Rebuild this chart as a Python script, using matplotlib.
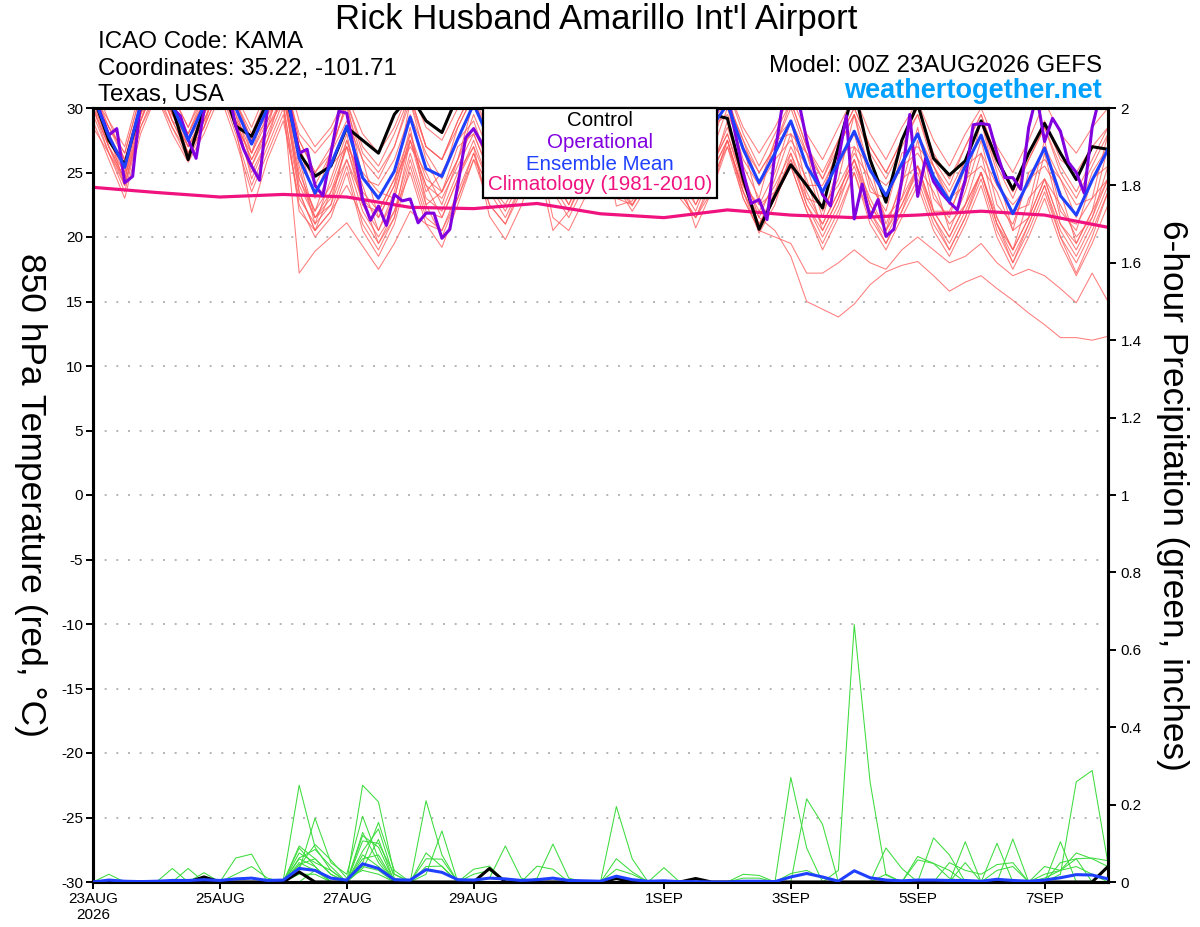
import numpy as np
import matplotlib
matplotlib.use("Agg")
import matplotlib.pyplot as plt
from matplotlib.patches import Rectangle

plt.rcParams['font.family'] = ['Liberation Sans', 'DejaVu Sans']
plt.rcParams['axes.unicode_minus'] = False

# ---------------- data ----------------
step_hours = 6            # ensemble output every 6 h, 0..384 h
op_step_hours = 3         # operational run every 3 h
clim_step_hours = 24      # climatology daily

xtick_hours = [0, 48, 96, 144, 216, 264, 312, 360]
xtick_labels = ["23AUG\n2026", "25AUG", "27AUG", "29AUG", "1SEP", "3SEP", "5SEP", "7SEP"]

control_temp = [31.0, 27.5, 25.6, 30.0, 33.0, 30.0, 26.0, 30.0, 32.5, 28.6, 27.8, 30.5, 32.0, 26.5, 24.7, 25.5,
                28.5, 27.5, 26.5, 29.5, 31.0, 29.0, 28.1, 31.0, 32.0, 29.0, 27.0, 29.0, 31.5, 28.5, 27.0, 29.0,
                31.5, 29.0, 27.0, 29.0, 31.5, 29.0, 27.5, 29.5, 29.2, 24.5, 20.6, 23.2, 25.6, 24.0, 22.25, 27.0,
                31.5, 26.0, 22.7, 27.5, 30.3, 26.1, 24.8, 25.9, 29.0, 26.0, 23.7, 26.5, 28.8, 26.5, 24.45, 27.0,
                26.8]

mean_temp = [31.0, 27.8, 25.4, 30.3, 33.0, 30.2, 27.5, 30.2, 33.0, 30.0, 27.2, 30.0, 32.5, 26.1, 23.4, 25.6,
             28.6, 24.6, 23.0, 25.1, 29.3, 25.3, 24.7, 27.6, 30.3, 27.5, 25.5, 28.0, 31.0, 28.0, 26.0, 28.5,
             31.0, 28.0, 25.8, 28.0, 30.5, 27.5, 25.5, 28.5, 30.3, 26.8, 24.2, 26.5, 29.0, 25.5, 23.5, 25.8,
             28.2, 25.2, 23.2, 25.7, 28.0, 24.7, 22.8, 25.5, 27.9, 24.3, 21.8, 24.4, 26.9, 23.2, 21.7, 24.4,
             26.8]

oper_temp = [31.5, 29.5, 27.9, 28.4, 24.2, 24.7, 30.5, 32.5,
             33.5, 32.5, 30.0, 29.4, 27.55, 26.1, 29.8, 32.5,
             33.5, 31.5, 28.6, 26.8, 25.5, 24.4, 30.0, 32.5,
             33.0, 29.5, 26.5, 26.8, 24.0, 23.2, 26.5, 29.75,
             29.6, 26.5, 22.9, 21.3, 22.4, 20.9, 23.3, 22.8,
             22.95, 21.1, 21.85, 21.85, 19.9, 20.6, 24.0, 27.7,
             28.4, 27.3, 26.0, 25.0, 24.5, 25.5, 27.5, 29.5,
             30.5, 29.5, 27.5, 26.0, 25.0, 25.5, 27.5, 29.5,
             30.5, 29.5, 27.5, 26.0, 25.0, 25.5, 27.5, 29.5,
             30.5, 29.5, 27.5, 26.0, 25.0, 26.0, 28.0, 30.5,
             31.0, 28.0, 25.0, 22.6, 22.9, 21.35, 26.5, 30.5,
             31.5, 30.5, 27.5, 25.0, 23.3, 22.4, 26.0, 29.4,
             21.4, 24.1, 21.5, 22.9, 20.05, 20.6, 24.5, 29.5,
             23.15, 26.1, 24.3, 23.4, 22.7, 22.1, 24.45, 28.7,
             28.8, 28.7, 26.5, 24.6, 24.6, 23.7, 28.5, 31.0,
             27.4, 29.2, 28.2, 25.8, 25.0, 23.4, 28.5, 31.0,
             31.0]

climatology_temp = [23.85, 23.45, 23.1, 23.3, 23.1, 22.3, 22.2, 22.6, 21.8,
                    21.5, 22.1, 21.7, 21.5, 21.7, 22.0, 21.7, 20.75]

member_temp = [
    [31.5, 28.5, 26.5, 31, 33.5, 31, 28.5, 31, 33.5, 30.5, 28, 31, 33, 27.5, 25, 27,
     30, 26, 24.5, 27, 31, 27, 26, 29, 31.5, 28.5, 26.5, 29, 32, 29, 27, 29.5,
     32, 29, 27, 29, 31.5, 28.5, 26.5, 29.5, 31.5, 28, 25.5, 28, 30.5, 27, 25, 27.5,
     30, 27, 25, 27.5, 30, 26.5, 24.5, 27, 29.5, 26, 23.5, 26, 28.5, 25.5, 23.5, 26, 28.5],
    [30.5, 27, 24.5, 29.5, 32.5, 29.5, 27, 29.5, 32, 29, 26, 28.5, 30.5, 17.2, 18.9, 20,
     21.1, 19.3, 17.5, 19.5, 22, 21, 20.5, 23, 26, 24, 22.5, 25, 28, 25, 23.5, 26,
     28.5, 25.5, 23.5, 25.5, 28, 25, 23, 25.5, 28, 24.5, 22, 24, 26.5, 23.5, 21, 23.5,
     26, 23, 20.5, 23, 25.5, 22, 20, 22.5, 25, 21.5, 19, 21.5, 24.5, 21, 19, 21.5, 24.5],
    [29.5, 26.5, 23.5, 28.5, 31.5, 28.5, 26, 28.5, 31.5, 28, 24, 27, 30, 23.5, 20.5, 22,
     25.5, 21, 19, 21.5, 26, 22, 21.5, 24.5, 27, 24, 22, 24.5, 28, 24.5, 22.5, 25,
     28, 24.5, 22.5, 24.5, 27.5, 24, 22, 25, 27.5, 23.5, 21, 23.5, 26, 22.5, 20.5, 23,
     25.5, 22, 20, 22.5, 25, 21.5, 19.5, 22, 25, 21, 18.5, 21, 24, 20.5, 18.5, 21, 24],
    [32, 29, 27, 31.5, 34, 31, 28.5, 31.5, 34, 31, 28.5, 31.5, 33.5, 29, 27, 28.5,
     31, 28, 26.5, 28.5, 31.5, 28.5, 27.5, 30, 32, 29, 27.5, 30, 32.5, 29.5, 27.5, 30,
     32.5, 29.5, 27.5, 30, 32, 29, 27, 30, 31.5, 28.5, 26.5, 28.5, 31, 28, 26, 28.5,
     31, 28, 26, 28.5, 30.5, 27.5, 25.5, 28, 30, 27, 25, 27.5, 30.5, 28, 26.5, 28.5, 30],
    [31, 28.5, 26, 30.5, 33, 30.5, 28, 30.5, 33, 30, 27.5, 30, 32.5, 28, 26.5, 28,
     30.5, 27, 25.5, 28, 31, 27, 26, 29, 31.5, 28.5, 26.5, 29.5, 32, 29, 27, 29.5,
     31.5, 29, 27, 29, 31, 28, 26, 29, 30.5, 27.5, 25, 27, 30.5, 27, 24.5, 27.5,
     30, 27, 25, 27.5, 29.5, 26, 24, 27, 29.5, 26, 23.5, 26.5, 29, 26, 25, 27, 28.5],
    [31.5, 28, 25.5, 30.5, 33.5, 30.5, 27.5, 30.5, 33.5, 30.5, 27.5, 30, 32.5, 27.5, 25, 26.5,
     30.5, 26.5, 25, 27, 30.5, 27, 26, 28.5, 31, 28, 26, 28.5, 31.5, 28.5, 26.5, 29,
     32, 29, 26.5, 28.5, 31, 28, 26, 29, 31, 27, 25, 27, 30, 26.5, 24.5, 27,
     29.5, 26.5, 24.5, 27, 29.5, 25.5, 23.5, 26, 29, 25.5, 23, 26, 28.5, 25, 23, 25.5, 28],
    [31, 29, 26, 29, 33, 29, 28, 31, 32, 30.5, 27.5, 29, 32, 27, 24, 26.5,
     29, 26, 21.5, 24, 30.5, 26, 23.5, 26, 30.5, 28, 24, 26.5, 30, 28, 25, 27,
     31.5, 26.5, 24, 28.5, 29, 27.5, 25.5, 27, 31, 25.5, 23, 27.5, 28, 26.5, 22, 24.5,
     29.5, 24, 22, 26.5, 27, 25.5, 23, 24, 29, 25, 20.5, 25, 26, 24.5, 22.5, 23, 28],
    [30, 26.5, 24.5, 30.5, 32, 30, 26.5, 28.5, 33, 28.5, 26.5, 30.5, 31.5, 24.5, 22, 25.5,
     27, 25, 23.5, 23, 28, 23.5, 25, 27.5, 29, 25.5, 25, 28, 31, 26.5, 24, 28,
     30, 27.5, 26, 26.5, 31, 25.5, 24, 28.5, 29.5, 27, 22.5, 25, 29, 24, 24, 26.5,
     27, 25.5, 21, 24, 28.5, 23, 21.5, 25.5, 26.5, 24, 22, 22.5, 27.5, 22, 20.5, 24.5, 25.5],
    [31.5, 27.5, 26, 29.5, 33.5, 29.5, 28, 30.5, 32.5, 30, 25.5, 28.5, 32.5, 25.5, 21, 24.5,
     28, 22.5, 22, 24.5, 27, 25, 22.5, 26, 29.5, 26.5, 23, 27, 29.5, 27, 23.5, 27.5,
     30.5, 25.5, 25, 27.5, 29, 26.5, 23, 26.5, 30, 26, 24, 26, 27.5, 25.5, 21.5, 25.5,
     28, 23.5, 23, 25.5, 26.5, 24.5, 20.5, 23.5, 27.5, 22.5, 21, 24.5, 25.5, 23.5, 19.5, 22, 27],
    [30, 28, 24, 29, 32, 30, 26, 29.5, 33, 29, 27.5, 29.5, 31, 26, 21.5, 22.5,
     27.5, 24, 20.5, 23.5, 28.5, 22.5, 23.5, 27, 28, 25, 24.5, 25.5, 29, 25.5, 24.5, 26,
     28.5, 26.5, 23, 27, 30, 24.5, 24.5, 25.5, 28.5, 25, 21.5, 24.5, 28, 23, 22.5, 24,
     26.5, 24.5, 21.5, 23, 27.5, 22, 22, 24.5, 25.5, 23.5, 20.5, 21.5, 26.5, 21.5, 21, 23, 24.5],
    [31, 27, 25, 30.5, 33, 30.5, 27, 29, 32, 29.5, 24.5, 27.5, 31.5, 23.5, 20.5, 23.5,
     26, 23, 19.5, 21.5, 27.5, 24, 21.5, 24.5, 27.5, 24, 23.5, 26.5, 30, 25, 22.5, 25.5,
     29.5, 24.5, 23.5, 26, 28, 25.5, 22.5, 25, 29, 24, 22.5, 23.5, 27, 24.5, 20.5, 23,
     27, 22.5, 20.5, 24.5, 25.5, 23.5, 21, 22.5, 26.5, 21.5, 19, 23, 24.5, 22.5, 20, 21.5, 25.5],
    [30.5, 28.5, 26.5, 31, 34, 29.5, 27.5, 30.5, 33.5, 30.5, 26.5, 29.5, 32.5, 27, 23, 26.5,
     30.5, 24.5, 24, 26, 29.5, 26.5, 24.5, 28.5, 31, 27, 26, 27.5, 31.5, 27.5, 26.5, 28,
     30.5, 28.5, 25.5, 29, 31, 27, 26, 28, 30.5, 27.5, 24, 27.5, 29, 26.5, 23.5, 27,
     29.5, 25, 24, 25.5, 28, 25.5, 22.5, 26, 29, 24, 22.5, 24, 27, 24.5, 21.5, 25, 27],
    [29, 26, 23, 28, 31, 28, 25.8, 28, 31, 27.5, 23.5, 26.5, 29.5, 22.5, 20, 21.5,
     25, 20.5, 18.5, 21, 25.5, 21.5, 20.5, 23.5, 26.5, 23.5, 21.5, 24, 27.5, 24, 22, 24.5,
     27.5, 24, 22, 24, 27, 23.5, 21.5, 24.5, 27, 23, 20.5, 23, 25.5, 22, 19.5, 22,
     25, 21.5, 19.5, 22, 24.5, 21, 19, 21.5, 24.5, 20.5, 18, 20.5, 23.5, 20, 18, 20.5, 23.5],
    [28.5, 26.5, 24, 28.5, 31, 28.5, 26.5, 28.5, 31.5, 28.5, 21.9, 26, 29, 23, 21, 22.5,
     26, 22, 20, 22, 26.5, 22.5, 20, 23, 26.5, 22.5, 21, 24, 27.5, 23.5, 21.5, 24,
     28, 24, 22.4, 24.5, 27.5, 23.5, 21.5, 24, 27.5, 23.5, 20.3, 22.5, 26.5, 22.5, 20, 22.5,
     26, 22, 19.5, 22, 25.5, 21.5, 19, 21.5, 25, 21, 18, 21, 24, 20, 17.2, 20, 23.5],
    [30, 27, 24, 29, 32, 29, 26.5, 29, 32, 28.5, 25, 27.5, 30.5, 22, 20.5, 22,
     24, 21.5, 19.5, 22, 25, 21, 19.2, 22.5, 26, 22.5, 21, 23.5, 27, 21.5, 20.5, 23,
     27.5, 23, 22.5, 24.5, 27, 23, 21.5, 23.5, 27, 24, 21, 23, 25.5, 22, 19, 21.5,
     25, 21, 19, 21.5, 24, 20.5, 18.5, 21, 24, 20, 17.5, 20, 23, 19.5, 17, 19.5, 22.5],
    [31, 28, 25.5, 30, 33, 30, 27.5, 29.5, 32.5, 29.5, 26.5, 29, 31.5, 25, 22, 24,
     27.5, 23.5, 22, 24.5, 28, 24.5, 23.5, 26, 28.5, 25.5, 23.5, 26, 29, 25.5, 23.5, 26,
     29, 25.5, 23.5, 26, 28.5, 25, 23, 25.5, 28, 24, 21.5, 20.5, 18.5, 15, 14.4, 13.8,
     14.8, 16.3, 17.3, 17.8, 18.1, 17, 15.8, 16.5, 17, 16, 15.1, 14.1, 13.2, 12.2, 12.2, 12, 12.3],
    [30.5, 27.5, 25, 29.5, 32.5, 29.5, 27, 29.5, 32.5, 29, 26, 28.5, 31, 24.5, 21.5, 23.5,
     27, 23, 21.5, 24, 27.5, 24, 23, 25.5, 28, 25, 23, 25.5, 28.5, 25, 23, 25.5,
     28.5, 25, 23, 25, 28, 24.5, 22.5, 25, 27.5, 23, 20.5, 20, 19.5, 17.2, 17.2, 18,
     19, 18, 17.5, 19, 20, 19, 18, 18.5, 19.5, 18, 17, 17.5, 17, 16, 14.9, 17.2, 15],
    [30, 27, 24.5, 29, 32, 29, 26.5, 29, 32, 28.5, 25.5, 28, 31, 24, 21.5, 23,
     27, 22.5, 20.5, 23, 27.5, 23, 22, 25, 27, 21.6, 19.8, 22.4, 26, 20.5, 22, 25,
     28.5, 22.4, 22.8, 25, 28.5, 24.5, 20.7, 23.5, 27.5, 23.5, 21, 23, 26, 23, 21, 23.5,
     26, 22.5, 20.5, 22.5, 25.5, 22, 20, 22.5, 25, 21, 19, 21.5, 24.5, 21, 19.5, 22, 24.5],
]

mean_precip = [0, .005, .002, .001, .002, .004, .004, .006, .004, .008, .01, .004, .005, .035, .03, .01,
               .005, .047, .035, .006, .005, .032, .025, .006, .005, .01, .008, .004, .006, .01, .004, .003,
               .002, .015, .006, .002, .003, .001, .001, 0, 0, .002, .002, .001, .013, .022, .013, .002,
               .029, .011, .005, .003, .005, .005, .004, .004, .002, .007, .004, .002, .005, .011, .019, .018,
               .008]

# control precipitation: step index -> inches (zero elsewhere)
control_precip = {7: .013, 13: .026, 25: .035, 33: .009, 38: .009, 64: .04}

# ensemble member precipitation: step index -> inches (zero elsewhere)
member_precip = [
    {1: .02, 13: .093, 14: .06, 15: .02, 17: .128, 18: .05, 21: .075, 22: .04, 24: .033, 25: .041,
     47: .03, 48: .665, 49: .258, 50: .018},
    {5: .035, 13: .088, 14: .04, 17: .106, 18: .10, 19: .02, 25: .01, 26: .093, 27: .01, 50: .088, 51: .035},
    {6: .035, 13: .075, 14: .05, 15: .03, 17: .08, 18: .137, 19: .01, 24: .02, 25: .03, 52: .066, 53: .048, 54: .01},
    {7: .024, 13: .062, 14: .084, 15: .04, 17: .06, 18: .07, 28: .041, 29: .033, 53: .114, 54: .07},
    {9: .062, 10: .072, 13: .05, 14: .03, 17: .04, 18: .03, 28: .01, 29: .098, 30: .01, 55: .104},
    {9: .02, 10: .04, 11: .01, 13: .04, 14: .097, 15: .057, 16: .01, 17: .03, 18: .02, 33: .195, 34: .06, 57: .1},
    {12: .005, 13: .25, 14: .09, 15: .03, 17: .05, 18: .154, 19: .03, 33: .06, 34: .026, 58: .111},
    {13: .03, 14: .165, 15: .05, 16: .02, 17: .17, 18: .06, 33: .033, 34: .02, 61: .104},
    {13: .02, 14: .02, 17: .25, 18: .207, 19: .02, 36: .037, 60: .04, 61: .03, 62: .06},
    {14: .03, 15: .01, 17: .12, 18: .09, 21: .06, 22: .059, 41: .02, 42: .017, 61: .02, 62: .259, 63: .288, 64: .048},
    {13: .06, 14: .04, 17: .07, 18: .04, 21: .04, 22: .041, 41: .01, 42: .01, 60: .02, 61: .03, 62: .075, 63: .06, 64: .04},
    {13: .045, 14: .06, 15: .02, 17: .035, 18: .11, 44: .27, 45: .088, 52: .057, 53: .048, 54: .03, 57: .03, 58: .04},
    {21: .21, 22: .07, 45: .215, 46: .149, 55: .05, 61: .05, 62: .06, 63: .062, 64: .055},
    {21: .02, 22: .132, 44: .022, 45: .03, 46: .01, 50: .02, 54: .05, 55: .03, 56: .02, 57: .045, 58: .05,
     60: .01, 61: .03, 62: .04, 63: .02},
]

# ---------------- styles ----------------
C_CONTROL = '#000000'
C_OPER = '#8000e0'
C_MEAN = '#2040ff'
C_CLIM = '#f0127f'
C_MEMBER_T = '#ff5c5c'
C_MEMBER_P = '#3ddc3d'

n = len(mean_temp)
hours = np.arange(n) * step_hours
op_hours = np.arange(len(oper_temp)) * op_step_hours
clim_hours = np.arange(len(climatology_temp)) * clim_step_hours


def expand(d):
    arr = np.zeros(n)
    for k, v in d.items():
        arr[k] = v
    return arr


fig = plt.figure(figsize=(12, 9.27), dpi=100)
ax = fig.add_axes([93 / 1200, 1 - 882 / 927, (1108 - 93) / 1200, (882 - 108) / 927])
ax2 = ax.twinx()

# temperatures
for m in member_temp:
    ax.plot(hours, m, color=C_MEMBER_T, lw=0.75, alpha=0.8, zorder=2)
ax.plot(clim_hours, climatology_temp, color=C_CLIM, lw=2.3, zorder=4)
ax.plot(hours, control_temp, color=C_CONTROL, lw=2.2, zorder=5)
ax.plot(op_hours, oper_temp, color=C_OPER, lw=2.2, zorder=6)
ax.plot(hours, mean_temp, color=C_MEAN, lw=2.2, zorder=7)

ax.set_xlim(0, 384)
ax.set_ylim(-30, 30)
ax.set_yticks(np.arange(-30, 31, 5))
ax.set_yticklabels([str(v) for v in range(-30, 31, 5)])
ax.set_xticks(xtick_hours)
ax.set_xticklabels(xtick_labels, multialignment='center')
ax.yaxis.grid(True, linestyle=(0, (1, 5)), color='#b4b4b4', lw=1.4)
ax.set_axisbelow(True)

# precipitation
for d in member_precip:
    ax2.plot(hours, expand(d), color=C_MEMBER_P, lw=0.75, zorder=2)
ax2.plot(hours, expand(control_precip), color=C_CONTROL, lw=2.2, zorder=4)
ax2.plot(hours, mean_precip, color=C_MEAN, lw=2.2, zorder=5)
ax2.set_ylim(0, 2)
ptick = np.round(np.arange(0, 2.01, 0.2), 1)
ax2.set_yticks(ptick)
ax2.set_yticklabels(['%g' % v for v in ptick])

for a in (ax, ax2):
    for s in a.spines.values():
        s.set_linewidth(2.2)
ax.tick_params(axis='both', direction='out', length=5, width=1.4, labelsize=11, pad=2)
ax2.tick_params(axis='y', direction='out', length=6, width=1.4, labelsize=11, pad=3)

# legend box
lx0, lx1 = (483 - 93) / 1015, (717 - 93) / 1015
ly0 = (882 - 198) / 774
ax2.add_patch(Rectangle((lx0, ly0), lx1 - lx0, 1 - ly0, transform=ax2.transAxes,
                        facecolor='white', edgecolor='black', lw=1.6, zorder=20, clip_on=False))
lcx = (lx0 + lx1) / 2
for txt, col, yy in [("Control", C_CONTROL, 121), ("Operational", C_OPER, 142),
                     ("Ensemble Mean", C_MEAN, 164), ("Climatology (1981-2010)", C_CLIM, 185)]:
    ax2.text(lcx, (882 - yy) / 774, txt, color=col, fontsize=14.8, ha='center', va='center',
             transform=ax2.transAxes, zorder=21)

# header texts
fig.text(596 / 1200, 1 - 20 / 927, "Rick Husband Amarillo Int'l Airport", fontsize=25,
         ha='center', va='center')
fig.text(98 / 1200, 1 - 42 / 927, "ICAO Code: KAMA", fontsize=17.4, ha='left', va='center')
fig.text(98 / 1200, 1 - 69 / 927, "Coordinates: 35.22, -101.71", fontsize=17.4, ha='left', va='center')
fig.text(98 / 1200, 1 - 95 / 927, "Texas, USA", fontsize=17.4, ha='left', va='center')
fig.text(1102 / 1200, 1 - 66 / 927, "Model: 00Z 23AUG2026 GEFS", fontsize=17.4, ha='right', va='center')
fig.text(1102 / 1200, 1 - 91 / 927, "weathertogether.net", fontsize=19.5, fontweight='bold',
         color='#00a0ff', ha='right', va='center')

fig.text(30 / 1200, 1 - 495 / 927, "850 hPa Temperature (red, \u00b0C)", fontsize=25.5,
         rotation=270, ha='center', va='center')
fig.text(1172 / 1200, 1 - 495 / 927, "6-hour Precipitation (green, inches)", fontsize=25.4,
         rotation=270, ha='center', va='center')

fig.savefig("out.png", dpi=100)
